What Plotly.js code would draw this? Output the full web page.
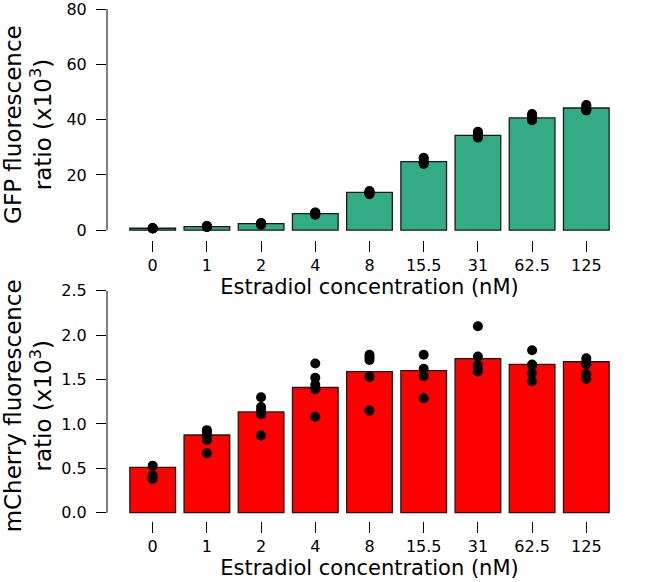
<!DOCTYPE html>
<html>
<head>
<meta charset="utf-8">
<script src="https://cdn.plot.ly/plotly-3.0.1.min.js"></script>
<style>html,body{margin:0;padding:0;background:#fff;}#chart{width:660px;height:582px;}</style>
</head>
<body>
<div id="chart"></div>
<script>
// Estradiol concentrations (nM)
const concentrations = ["0", "1", "2", "4", "8", "15.5", "31", "62.5", "125"];

// GFP fluorescence ratio (x10^3): bar heights and individual replicate points
const gfpBars = [0.7, 1.3, 2.4, 6.0, 13.7, 24.8, 34.3, 40.6, 44.2];
const gfpPoints = [
  [0.6, 0.7, 0.8, 0.7, 0.6],
  [1.2, 1.4, 1.3, 1.5, 1.2],
  [2.2, 2.6, 2.4, 2.0, 2.5],
  [5.6, 6.3, 6.0, 5.8, 6.4],
  [13.0, 14.2, 13.6, 13.9, 13.4],
  [24.0, 25.8, 24.5, 26.2, 24.6],
  [33.5, 35.2, 34.0, 35.6, 34.3],
  [39.8, 41.6, 40.3, 42.0, 40.6],
  [43.3, 45.3, 44.0, 45.0, 43.7]
];

// mCherry fluorescence ratio (x10^3): bar heights and individual replicate points
const mcherryBars = [0.51, 0.875, 1.135, 1.41, 1.59, 1.60, 1.735, 1.67, 1.70];
const mcherryPoints = [
  [0.53, 0.42, 0.38, 0.40],
  [0.93, 0.90, 0.86, 0.82, 0.67],
  [1.30, 1.19, 1.15, 1.11, 0.87],
  [1.68, 1.52, 1.44, 1.39, 1.08],
  [1.78, 1.75, 1.72, 1.53, 1.15],
  [1.78, 1.62, 1.54, 1.29],
  [2.10, 1.76, 1.66, 1.59, 1.62],
  [1.83, 1.67, 1.57, 1.48, 1.66],
  [1.74, 1.70, 1.67, 1.56, 1.51]
];

const gfpTicks = [0, 20, 40, 60, 80];
const mcherryTicks = [0.0, 0.5, 1.0, 1.5, 2.0, 2.5];
const mcherryTickText = ["0.0", "0.5", "1.0", "1.5", "2.0", "2.5"];

function flatten(points) {
  const xs = [], ys = [];
  points.forEach((arr, i) => arr.forEach(v => { xs.push(concentrations[i]); ys.push(v); }));
  return {xs, ys};
}
const gfpFlat = flatten(gfpPoints);
const mchFlat = flatten(mcherryPoints);

const FONT = "DejaVu Sans, Bitstream Vera Sans, sans-serif";
const barLine = {color: "#1a1a1a", width: 1.3};

const traces = [
  {type: "bar", x: concentrations, y: gfpBars, xaxis: "x", yaxis: "y",
   width: 0.843, marker: {color: "#33AB84", line: barLine}},
  {type: "scatter", mode: "markers", x: gfpFlat.xs, y: gfpFlat.ys, xaxis: "x", yaxis: "y",
   marker: {color: "black", size: 10}},
  {type: "bar", x: concentrations, y: mcherryBars, xaxis: "x2", yaxis: "y2",
   width: 0.843, marker: {color: "#FF0000", line: barLine}},
  {type: "scatter", mode: "markers", x: mchFlat.xs, y: mchFlat.ys, xaxis: "x2", yaxis: "y2",
   marker: {color: "black", size: 10}}
];

const xCommon = {
  type: "category", range: [-0.843, 8.843], showline: false, showgrid: false, zeroline: false,
  ticks: "outside", ticklen: 11, tickwidth: 1, tickcolor: "black",
  tickfont: {family: FONT, size: 16, color: "black"}
};
const yCommon = {
  showline: false, showgrid: false, zeroline: false,
  ticks: "outside", ticklen: 10, tickwidth: 1, tickcolor: "black",
  tickfont: {family: FONT, size: 16, color: "black"},
  ticklabelstandoff: 6, ticklabeloverflow: "allow"
};

// y-axis lines spanning only the tick range (as in the reference), drawn on the axes' own scales
function axisLine(xref, yref, ticks) {
  return {type: "line", xref: xref + " domain", yref: yref, x0: 0, x1: 0,
          y0: ticks[0], y1: ticks[ticks.length - 1], line: {color: "black", width: 1}};
}

const layout = {
  width: 660, height: 582,
  margin: {l: 107, r: 28, t: 9, b: 61},
  paper_bgcolor: "white", plot_bgcolor: "white",
  showlegend: false,
  font: {family: FONT, color: "black"},
  xaxis: Object.assign({}, xCommon, {anchor: "y",
    title: {text: "Estradiol concentration (nM)", font: {family: FONT, size: 21, color: "black"}, standoff: 3}}),
  yaxis: Object.assign({}, yCommon, {domain: [0.5485, 1], range: [-3.61, 80.02], tickvals: gfpTicks, anchor: "x",
    title: {text: "GFP fluorescence<br>ratio (x10<sup>3</sup>)", font: {family: FONT, size: 23, color: "black"}, standoff: 8}}),
  xaxis2: Object.assign({}, xCommon, {anchor: "y2",
    title: {text: "Estradiol concentration (nM)", font: {family: FONT, size: 21, color: "black"}, standoff: 3}}),
  yaxis2: Object.assign({}, yCommon, {domain: [0, 0.4498], range: [-0.0935, 2.5005], tickvals: mcherryTicks, ticktext: mcherryTickText, anchor: "x2",
    title: {text: "mCherry fluorescence<br>ratio (x10<sup>3</sup>)", font: {family: FONT, size: 23, color: "black"}, standoff: 8}}),
  shapes: [axisLine("x", "y", gfpTicks), axisLine("x2", "y2", mcherryTicks)]
};

Plotly.newPlot("chart", traces, layout, {staticPlot: true, displayModeBar: false});
</script>
</body>
</html>
